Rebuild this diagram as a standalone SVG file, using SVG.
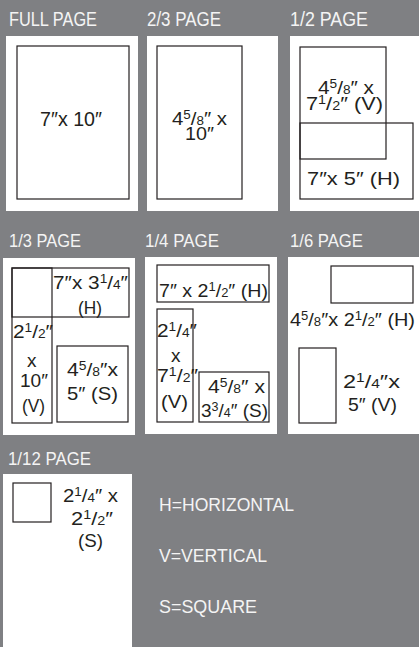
<svg xmlns="http://www.w3.org/2000/svg" width="419" height="647" viewBox="0 0 419 647">
<style>
.t{font-family:"Liberation Sans",Arial,sans-serif;fill:#f4f4f4;font-size:19.5px}
.t2{font-family:"Liberation Sans",Arial,sans-serif;fill:#f4f4f4;font-size:18.5px}
.p{fill:#ffffff}
.b{fill:none;stroke:#231f20;stroke-width:1.2}
.l{font-family:"Liberation Sans",Arial,sans-serif;fill:#231f20;font-size:19px}
.f{font-size:12.5px}
</style>
<rect x="0" y="0" width="419" height="647" fill="#7f8083"/>

<g id="full-page">
<text class="t" x="9" y="26" textLength="88" lengthAdjust="spacingAndGlyphs">FULL PAGE</text>
<rect class="p" x="6" y="36" width="132" height="175"/>
<rect class="b" x="17" y="46" width="112" height="153"/>
<text class="l" x="40" y="126" style="font-size:21px" textLength="62" lengthAdjust="spacingAndGlyphs">7″x 10″</text>
</g>

<g id="two-thirds-page">
<text class="t" x="147" y="26" textLength="74" lengthAdjust="spacingAndGlyphs">2/3 PAGE</text>
<rect class="p" x="147" y="36" width="131" height="175"/>
<rect class="b" x="157" y="46" width="85" height="153"/>
<text class="l"><tspan x="172" y="125" textLength="55" lengthAdjust="spacingAndGlyphs">4<tspan class="f" dy="-6">5</tspan><tspan dy="6">/</tspan><tspan class="f">8</tspan>″ x</tspan><tspan x="185" y="140" textLength="29" lengthAdjust="spacingAndGlyphs">10″</tspan></text>
</g>

<g id="half-page">
<text class="t" x="290" y="26" textLength="78" lengthAdjust="spacingAndGlyphs">1/2 PAGE</text>
<rect class="p" x="290" y="36" width="129" height="175"/>
<rect class="b" x="300" y="47" width="86" height="112"/>
<rect class="b" x="300" y="123" width="113" height="76"/>
<text class="l"><tspan x="318" y="94" textLength="56" lengthAdjust="spacingAndGlyphs">4<tspan class="f" dy="-6">5</tspan><tspan dy="6">/</tspan><tspan class="f">8</tspan>″ x</tspan><tspan x="306" y="110" textLength="77" lengthAdjust="spacingAndGlyphs">7<tspan class="f" dy="-6">1</tspan><tspan dy="6">/</tspan><tspan class="f">2</tspan>″ (V)</tspan></text>
<text class="l" x="307" y="185" textLength="93" lengthAdjust="spacingAndGlyphs">7″x 5″ (H)</text>
</g>

<g id="third-page">
<text class="t2" x="9" y="247" textLength="72" lengthAdjust="spacingAndGlyphs">1/3 PAGE</text>
<rect class="p" x="3" y="258" width="132" height="177"/>
<rect class="b" x="12" y="268" width="40" height="155"/>
<rect class="b" x="12" y="268" width="117" height="49"/>
<rect class="b" x="57" y="346" width="71" height="76"/>
<text class="l"><tspan x="53" y="289" textLength="75" lengthAdjust="spacingAndGlyphs">7″x 3<tspan class="f" dy="-6">1</tspan><tspan dy="6">/</tspan><tspan class="f">4</tspan>″</tspan><tspan x="78" y="314" textLength="24" lengthAdjust="spacingAndGlyphs">(H)</tspan></text>
<text class="l"><tspan x="13" y="338" textLength="40" lengthAdjust="spacingAndGlyphs">2<tspan class="f" dy="-6">1</tspan><tspan dy="6">/</tspan><tspan class="f">2</tspan>″</tspan><tspan x="27" y="367">x</tspan><tspan x="20" y="387" textLength="28" lengthAdjust="spacingAndGlyphs">10″</tspan><tspan x="22" y="412" textLength="23" lengthAdjust="spacingAndGlyphs">(V)</tspan></text>
<text class="l"><tspan x="67" y="376" textLength="51" lengthAdjust="spacingAndGlyphs">4<tspan class="f" dy="-6">5</tspan><tspan dy="6">/</tspan><tspan class="f">8</tspan>″x</tspan><tspan x="67" y="400" textLength="51" lengthAdjust="spacingAndGlyphs">5″ (S)</tspan></text>
</g>

<g id="quarter-page">
<text class="t2" x="145" y="247" textLength="74" lengthAdjust="spacingAndGlyphs">1/4 PAGE</text>
<rect class="p" x="145" y="257" width="132" height="177"/>
<rect class="b" x="157" y="265" width="112" height="37"/>
<rect class="b" x="157" y="309" width="36" height="113"/>
<rect class="b" x="199" y="372" width="70" height="50"/>
<text class="l" x="159" y="297" textLength="109" lengthAdjust="spacingAndGlyphs">7″ x 2<tspan class="f" dy="-6">1</tspan><tspan dy="6">/</tspan><tspan class="f">2</tspan>″ (H)</text>
<text class="l"><tspan x="157" y="337" textLength="40" lengthAdjust="spacingAndGlyphs">2<tspan class="f" dy="-6">1</tspan><tspan dy="6">/</tspan><tspan class="f">4</tspan>″</tspan><tspan x="171" y="362">x</tspan><tspan x="157" y="382" textLength="41" lengthAdjust="spacingAndGlyphs">7<tspan class="f" dy="-6">1</tspan><tspan dy="6">/</tspan><tspan class="f">2</tspan>″</tspan><tspan x="161" y="408" textLength="27" lengthAdjust="spacingAndGlyphs">(V)</tspan></text>
<text class="l"><tspan x="208" y="393" textLength="57" lengthAdjust="spacingAndGlyphs">4<tspan class="f" dy="-6">5</tspan><tspan dy="6">/</tspan><tspan class="f">8</tspan>″ x</tspan><tspan x="201" y="417" textLength="67" lengthAdjust="spacingAndGlyphs">3<tspan class="f" dy="-6">3</tspan><tspan dy="6">/</tspan><tspan class="f">4</tspan>″ (S)</tspan></text>
</g>

<g id="sixth-page">
<text class="t2" x="290" y="247" textLength="73" lengthAdjust="spacingAndGlyphs">1/6 PAGE</text>
<rect class="p" x="288" y="257" width="131" height="177"/>
<rect class="b" x="331" y="266" width="82" height="37"/>
<rect class="b" x="299" y="348" width="37" height="75"/>
<text class="l" x="290" y="326" textLength="125" lengthAdjust="spacingAndGlyphs">4<tspan class="f" dy="-6">5</tspan><tspan dy="6">/</tspan><tspan class="f">8</tspan>″x 2<tspan class="f" dy="-6">1</tspan><tspan dy="6">/</tspan><tspan class="f">2</tspan>″ (H)</text>
<text class="l"><tspan x="343" y="388" textLength="57" lengthAdjust="spacingAndGlyphs">2<tspan class="f" dy="-6">1</tspan><tspan dy="6">/</tspan><tspan class="f">4</tspan>″x</tspan><tspan x="348" y="411" textLength="49" lengthAdjust="spacingAndGlyphs">5″ (V)</tspan></text>
</g>

<g id="twelfth-page">
<text class="t2" x="8" y="465" textLength="83" lengthAdjust="spacingAndGlyphs">1/12 PAGE</text>
<rect class="p" x="3" y="474" width="129" height="173"/>
<rect class="b" x="13" y="483" width="38" height="39"/>
<text class="l"><tspan x="63" y="502" textLength="55" lengthAdjust="spacingAndGlyphs">2<tspan class="f" dy="-6">1</tspan><tspan dy="6">/</tspan><tspan class="f">4</tspan>″ x</tspan><tspan x="71" y="525" textLength="42" lengthAdjust="spacingAndGlyphs">2<tspan class="f" dy="-6">1</tspan><tspan dy="6">/</tspan><tspan class="f">2</tspan>″</tspan><tspan x="78" y="547" textLength="25" lengthAdjust="spacingAndGlyphs">(S)</tspan></text>
</g>

<g id="legend">
<text class="t" x="159" y="511" style="font-size:19px" textLength="135" lengthAdjust="spacingAndGlyphs">H=HORIZONTAL</text>
<text class="t" x="159" y="562" style="font-size:19px" textLength="108" lengthAdjust="spacingAndGlyphs">V=VERTICAL</text>
<text class="t" x="159" y="613" style="font-size:19px" textLength="98" lengthAdjust="spacingAndGlyphs">S=SQUARE</text>
</g>
<g id="connectors"/>
</svg>
